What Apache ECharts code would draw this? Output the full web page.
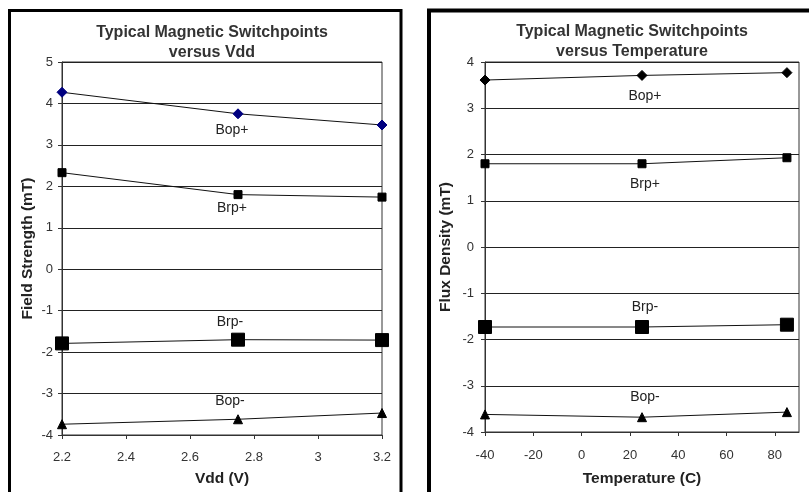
<!DOCTYPE html>
<html>
<head>
<meta charset="utf-8">
<script src="https://cdn.jsdelivr.net/npm/echarts@6/dist/echarts.min.js"></script>
<style>
html,body{margin:0;padding:0;background:#fff;}
#c{width:809px;height:492px;}
</style>
</head>
<body>
<div id="c"></div>
<script>
// ---- data ----
var vddX = [2.2, 2.75, 3.2];
var vddBopPlus = [4.27, 3.75, 3.48];
var vddBrpPlus = [2.33, 1.80, 1.74];
var vddBrpMinus = [-1.79, -1.70, -1.71];
var vddBopMinus = [-3.74, -3.62, -3.47];

var tempX = [-40, 25, 85];
var tempBopPlus = [3.61, 3.71, 3.77];
var tempBrpPlus = [1.80, 1.80, 1.93];
var tempBrpMinus = [-1.73, -1.73, -1.68];
var tempBopMinus = [-3.62, -3.68, -3.57];

var seriesNames = ['Bop+', 'Brp+', 'Brp-', 'Bop-'];
var vddTicks = [2.2, 2.4, 2.6, 2.8, 3.0, 3.2];
var tempTicks = [-40, -20, 0, 20, 40, 60, 80];

var FONT = '"Liberation Sans", Arial, sans-serif';

function pairs(xs, ys) { return xs.map(function (x, i) { return [x, ys[i]]; }); }

function mkSeries(name, xs, ys, idx, symbol, size, color, labelOffset) {
  var data = pairs(xs, ys).map(function (p, i) {
    if (i === 1) {
      return {
        value: p,
        label: {
          show: true, formatter: name, position: 'inside', offset: labelOffset,
          color: '#222', fontSize: 14, fontFamily: FONT
        }
      };
    }
    return { value: p };
  });
  return {
    type: 'line', name: name, xAxisIndex: idx, yAxisIndex: idx,
    data: data, symbol: symbol, symbolSize: size, showAllSymbol: true,
    lineStyle: { color: '#111', width: 1 },
    itemStyle: { color: color, borderColor: color },
    emphasis: { disabled: true }, animation: false, z: 3
  };
}

var axisLabelStyle = { color: '#333', fontSize: 13, fontFamily: FONT };
var axisNameStyle = { color: '#222', fontSize: 15.5, fontWeight: 'bold', fontFamily: FONT };

var chart = echarts.init(document.getElementById('c'), null, { renderer: 'canvas' });
chart.setOption({
  animation: false,
  backgroundColor: '#fff',
  title: [
    { text: 'Typical Magnetic Switchpoints\nversus Vdd', left: 207, top: 18, textAlign: 'center',
      textStyle: { fontSize: 16, fontWeight: 'bold', color: '#333', fontFamily: FONT, lineHeight: 20 } },
    { text: 'Typical Magnetic Switchpoints\nversus Temperature', left: 627, top: 17, textAlign: 'center',
      textStyle: { fontSize: 16, fontWeight: 'bold', color: '#333', fontFamily: FONT, lineHeight: 20 } }
  ],
  grid: [
    { left: 62, top: 62, width: 320, height: 378, show: true, borderColor: '#333', borderWidth: 1, backgroundColor: 'transparent' },
    { left: 485, top: 62, width: 314, height: 375, show: true, borderColor: '#333', borderWidth: 1, backgroundColor: 'transparent' }
  ],
  xAxis: [
    { type: 'value', gridIndex: 0, min: 2.2, max: 3.2, interval: 0.2,
      name: 'Vdd (V)', nameLocation: 'middle', nameGap: 36, nameTextStyle: axisNameStyle,
      axisLine: { onZero: false, lineStyle: { color: '#333' } },
      axisTick: { show: true, length: 4, lineStyle: { color: '#333' }, customValues: vddTicks },
      axisLabel: Object.assign({ margin: 16, customValues: vddTicks,
        formatter: function (v) { return String(Math.round(v * 10) / 10); } }, axisLabelStyle),
      splitLine: { show: false } },
    { type: 'value', gridIndex: 1, min: -40, max: 90, interval: 20,
      name: 'Temperature (C)', nameLocation: 'middle', nameGap: 39, nameTextStyle: axisNameStyle,
      axisLine: { onZero: false, lineStyle: { color: '#333' } },
      axisTick: { show: true, length: 4, lineStyle: { color: '#333' }, customValues: tempTicks },
      axisLabel: Object.assign({ margin: 17, customValues: tempTicks }, axisLabelStyle),
      splitLine: { show: false } }
  ],
  yAxis: [
    { type: 'value', gridIndex: 0, min: -4, max: 5, interval: 1,
      name: 'Field Strength (mT)', nameLocation: 'middle', nameGap: 26, nameTextStyle: axisNameStyle,
      axisLine: { onZero: false, lineStyle: { color: '#333' } },
      axisTick: { show: true, length: 4, lineStyle: { color: '#333' } },
      axisLabel: Object.assign({ margin: 9 }, axisLabelStyle),
      splitLine: { show: true, lineStyle: { color: '#222', width: 1 } } },
    { type: 'value', gridIndex: 1, min: -4, max: 4, interval: 1,
      name: 'Flux Density (mT)', nameLocation: 'middle', nameGap: 31, nameTextStyle: axisNameStyle,
      axisLine: { onZero: false, lineStyle: { color: '#333' } },
      axisTick: { show: true, length: 4, lineStyle: { color: '#333' } },
      axisLabel: Object.assign({ margin: 11 }, axisLabelStyle),
      splitLine: { show: true, lineStyle: { color: '#222', width: 1 } } }
  ],
  series: [
    mkSeries(seriesNames[0], vddX, vddBopPlus, 0, 'diamond', 10, '#000080', [-6, 16]),
    mkSeries(seriesNames[1], vddX, vddBrpPlus, 0, 'rect', 8, '#000', [-6, 14]),
    mkSeries(seriesNames[2], vddX, vddBrpMinus, 0, 'rect', 13, '#000', [-8, -18]),
    mkSeries(seriesNames[3], vddX, vddBopMinus, 0, 'triangle', 9, '#000', [-8, -18]),
    mkSeries(seriesNames[0], tempX, tempBopPlus, 1, 'diamond', 10, '#000', [3, 21]),
    mkSeries(seriesNames[1], tempX, tempBrpPlus, 1, 'rect', 8, '#000', [3, 20]),
    mkSeries(seriesNames[2], tempX, tempBrpMinus, 1, 'rect', 13, '#000', [3, -20]),
    mkSeries(seriesNames[3], tempX, tempBopMinus, 1, 'triangle', 9, '#000', [3, -20])
  ],
  graphic: [
    { type: 'polyline', shape: { points: [[9.5, 492], [9.5, 10.5], [401, 10.5], [401, 492]] },
      style: { stroke: '#000', lineWidth: 3, fill: null } },
    { type: 'line', shape: { x1: 401, y1: 10, x2: 401, y2: 492 }, style: { stroke: '#000', lineWidth: 2 }, z: 10 },
    { type: 'polyline', shape: { points: [[429, 492], [429, 10.5], [809, 10.5]] },
      style: { stroke: '#000', lineWidth: 4, fill: null } }
  ]
});
</script>
</body>
</html>
